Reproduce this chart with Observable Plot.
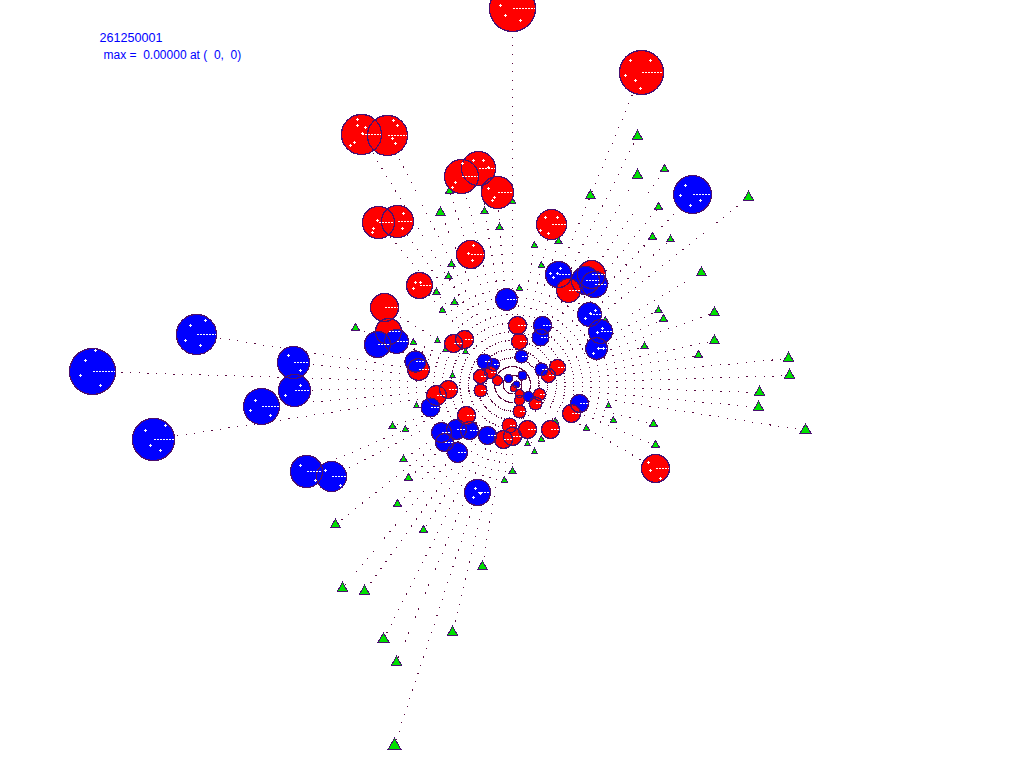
<!DOCTYPE html>
<html><head><meta charset="utf-8">
<script src="https://cdn.jsdelivr.net/npm/d3@7"></script>
<script src="https://cdn.jsdelivr.net/npm/@observablehq/plot@0.6"></script>
<style>html,body{margin:0;padding:0;background:#fff}svg{display:block}</style>
</head><body><div id="chart"></div>
<script>
const origin = [512, 384];
const labels = [
  {x: 99, y: 37, size: 12.6, text: "261250001"},
  {x: 103, y: 55, size: 12, text: "max =  0.00000 at (  0,  0)"}
];
// [x, y, radius] in chart units
const redUnder = [[512,8,23],[641,72,22],[361,134,20],[387,135,20],[461,176,17],[478,168,17],[497,192,16],[378,222,16],[397,221,16],[551,224,15],[470,254,14],[419,285,13],[591,274,14],[568,290,12],[384,307,14],[388,331,13],[453,343,9],[464,339,9],[517,325,9],[519,341,8],[418,369,11],[557,367,8],[548,375,7],[655,468,14]];
const blue = [[692,194,19],[558,274,13],[585,280,14],[594,284,13],[589,314,12],[600,331,12],[596,348,11],[506,299,11],[542,325,9],[540,337,8.5],[377,344,13],[396,341,12],[415,361,10.5],[92,371,23],[196,334,20],[293,362,16],[294,390,16],[261,406,18],[153,439,21],[306,471,16],[331,476,15],[477,492,13],[579,403,9],[430,407,9.5],[441,432,10],[456,429,10],[469,430,9],[444,442,9],[457,452,10],[487,435,9],[484,361,7.5],[493,364,6],[521,356,6.5],[541,369,6.5],[508,378,4],[522,375,4.5],[516,384,3.5],[528,396,5]];
const redOver = [[436,395,10],[448,389,9],[466,415,9],[480,376,7],[480,390,6.5],[490,372,6],[497,380,5],[513,388,3],[519,393,4],[519,400,5],[519,411,6.5],[539,394,6],[535,403,6.5],[509,425,7.5],[503,439,9],[512,436,9],[527,429,9],[550,429,9],[571,413,9]];
// [x, y, size]
const triangles = [[637,136,3.9],[637,175,3.9],[664,169,3.2],[590,195,3.5],[658,207,3.2],[748,197,3.9],[652,237,3.2],[670,239,2.8],[701,272,3.5],[658,310,2.8],[663,319,3.2],[714,312,3.5],[644,346,2.8],[714,340,3.5],[698,355,3.2],[788,358,3.9],[789,375,3.9],[759,392,3.9],[758,407,3.9],[805,430,4.3],[608,405,2],[613,420,2.4],[653,424,3.2],[655,445,3.2],[586,428,2.4],[605,320,2.4],[558,241,2.8],[534,245,2.4],[541,265,2.4],[519,288,2.4],[499,227,2.8],[484,211,2.8],[512,201,2.4],[449,191,3.2],[440,212,3.5],[448,276,2.8],[451,264,2.8],[436,292,2.8],[454,302,2.8],[442,310,2.4],[355,328,3.2],[413,342,2.4],[437,340,2],[465,351,2],[445,349,2],[452,375,2],[416,405,2],[392,426,2.8],[405,429,2.4],[403,459,2.8],[408,478,3.2],[397,504,3.2],[335,524,3.5],[423,530,3.2],[342,588,3.9],[364,591,3.9],[383,639,4.3],[396,662,3.9],[452,632,3.9],[482,566,3.5],[394,745,4.7],[504,480,2.4],[512,471,2.8],[541,439,2.4],[555,421,2.4],[534,451,2],[527,443,2]];
// white flecks seen on the discs: [x, y]
const flecks = [[357,119],[357,125],[362,133],[354,142],[350,145],[365,127],[393,120],[397,125],[392,138],[395,143],[452,187],[455,182],[462,163],[473,160],[483,160],[488,167],[492,200],[488,188],[494,197],[373,228],[372,232],[377,220],[403,213],[402,228],[545,217],[557,217],[540,230],[548,233],[468,253],[473,245],[472,260],[415,282],[413,288],[420,282],[557,273],[553,277],[560,268],[550,273],[590,313],[585,318],[595,310],[602,328],[597,332],[598,348],[603,348],[593,353],[650,470],[660,478],[648,462],[630,60],[635,80],[625,75],[650,60],[640,88],[505,15],[520,20],[500,5],[685,185],[700,200],[690,205],[680,195],[85,360],[100,385],[80,375],[95,350],[190,325],[200,345],[185,340],[205,320],[288,355],[300,370],[300,385],[285,395],[255,400],[270,415],[250,410],[145,430],[160,450],[150,445],[165,425],[300,465],[315,480],[325,470],[340,485],[475,488],[473,497],[480,493]];

const circles = [
  ...redUnder.map(d => ({d, k: "red"})),
  ...blue.map(d => ({d, k: "blue"})),
  ...redOver.map(d => ({d, k: "red"}))
].map(({d, k}) => ({x: d[0], y: d[1], r: d[2], k}));
const tris = triangles.map(d => ({x: d[0], y: d[1], r: d[2]}));
const spokes = [...circles, ...tris];
const big = circles.filter(d => d.r >= 6);
const fleckRows = flecks.map(d => ({x: d[0], y: d[1]}));

const outline = "#4a1070";
const plot = Plot.plot({
  width: 1024, height: 768,
  marginTop: 0, marginRight: 0, marginBottom: 0, marginLeft: 0,
  x: {domain: [0, 1024], range: [0, 1024], axis: null},
  y: {domain: [0, 768], range: [0, 768], axis: null},
  r: {type: "linear", domain: [0, 100], range: [0, 100]},
  style: {background: "white"},
  marks: [
    Plot.link(spokes, {
      x1: () => origin[0], y1: () => origin[1], x2: "x", y2: "y",
      stroke: "#5a0a40", strokeWidth: 1, strokeDasharray: "1.2 7.47",
      shapeRendering: "crispEdges"
    }),
    Plot.dot(tris, {x: "x", y: "y", r: "r", symbol: "triangle", fill: "#00e000", stroke: outline, strokeWidth: 1, shapeRendering: "crispEdges"}),
    Plot.dot(circles, {x: "x", y: "y", r: "r", fill: d => d.k === "red" ? "#ff0000" : "#0000ff", stroke: "none", shapeRendering: "crispEdges"}),
    Plot.dot(circles, {x: "x", y: "y", r: "r", fill: "none", stroke: outline, strokeWidth: 1.3, shapeRendering: "crispEdges"}),
    Plot.link(big, {x1: "x", x2: d => d.x + d.r - 1, y1: "y", y2: "y", stroke: "white", strokeWidth: 1, strokeDasharray: "2 1", shapeRendering: "crispEdges"}),
    Plot.dot(fleckRows, {x: "x", y: "y", r: 1.1, fill: "white", stroke: "none", shapeRendering: "crispEdges"}),
    Plot.text(labels, {x: "x", y: "y", text: "text", textAnchor: "start", fill: "#0000ff", fontSize: "size", fontFamily: "Liberation Sans, Arial, sans-serif"})
  ]
});
document.getElementById("chart").append(plot);
</script></body></html>
